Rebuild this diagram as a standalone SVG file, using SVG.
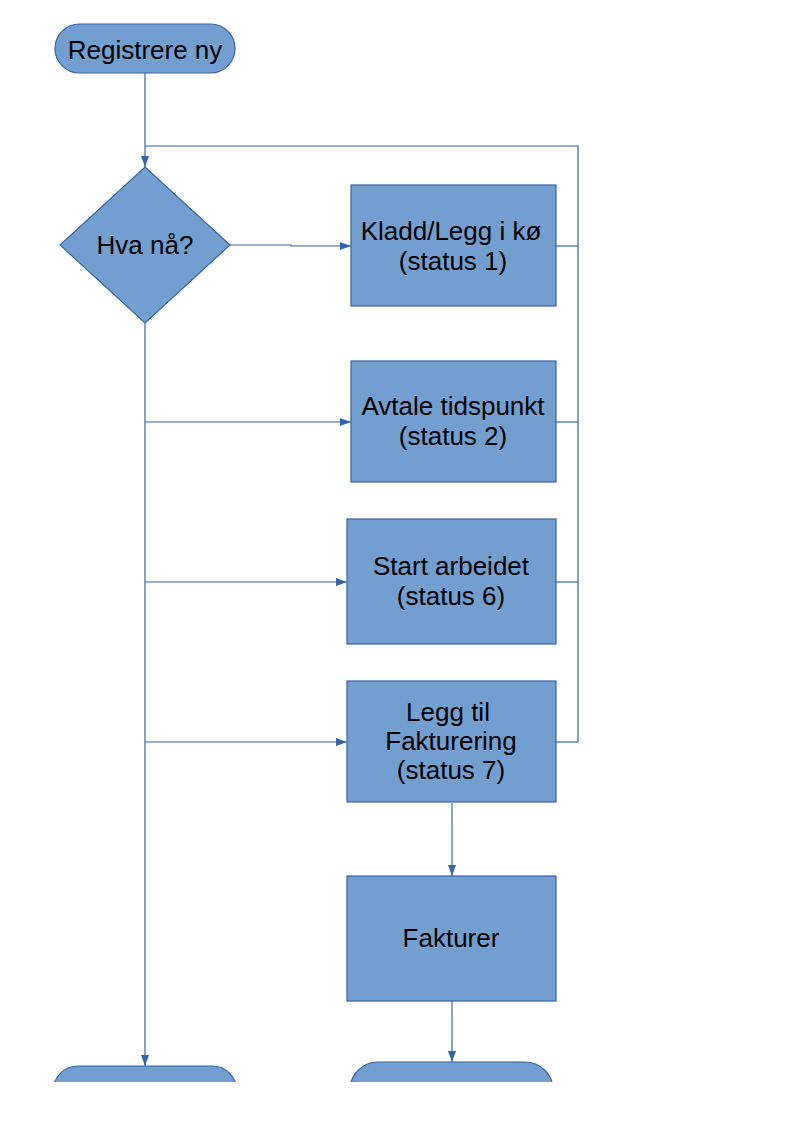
<svg xmlns="http://www.w3.org/2000/svg" width="794" height="1123" viewBox="0 0 794 1123">
  <defs>
    <marker id="arr" viewBox="0 0 11 8" refX="11" refY="4" markerWidth="11" markerHeight="8" markerUnits="userSpaceOnUse" orient="auto">
      <path d="M0,0 L11,4 L0,8 z" fill="#3465a4"/>
    </marker>
    <clipPath id="pageclip">
      <rect x="0" y="0" width="794" height="1082"/>
    </clipPath>
  </defs>
  <style>
    .shape { fill: #729fcf; stroke: #3465a4; stroke-width: 1.2; }
    .lbl { font-family: "Liberation Sans", Arial, sans-serif; font-size: 26px; fill: #000; text-anchor: middle; }
    .conn { fill: none; stroke: #3465a4; stroke-width: 1.2; }
  </style>
  <rect width="794" height="1123" fill="#ffffff"/>

  <g id="connectors">
    <path class="conn" d="M145,73 V167" marker-end="url(#arr)"/>
    <path class="conn" d="M578,742 V146 H145"/>
    <path class="conn" d="M556,246 H578"/>
    <path class="conn" d="M556,422 H578"/>
    <path class="conn" d="M556,582 H578"/>
    <path class="conn" d="M556,742 H578"/>
    <path class="conn" d="M230,245 H291 V246 H351" marker-end="url(#arr)"/>
    <path class="conn" d="M145,323 V1066" marker-end="url(#arr)"/>
    <path class="conn" d="M145,422 H351" marker-end="url(#arr)"/>
    <path class="conn" d="M145,582 H347" marker-end="url(#arr)"/>
    <path class="conn" d="M145,742 H347" marker-end="url(#arr)"/>
    <path class="conn" d="M452,803 V876" marker-end="url(#arr)"/>
    <path class="conn" d="M452,1001 V1062" marker-end="url(#arr)"/>
  </g>

  <g id="start">
    <rect class="shape" x="55" y="24" width="180" height="49" rx="24.5" ry="24.5"/>
    <text class="lbl" x="145" y="59">Registrere ny</text>
  </g>

  <g id="decision">
    <polygon class="shape" points="145,167 230,245 145,323 60,245"/>
    <text class="lbl" x="145" y="254">Hva nå?</text>
  </g>

  <g id="status1">
    <rect class="shape" x="351" y="185" width="205" height="121"/>
    <text class="lbl" x="451" y="240">Kladd/Legg i kø</text>
    <text class="lbl" x="453" y="270">(status 1)</text>
  </g>

  <g id="status2">
    <rect class="shape" x="351" y="361" width="205" height="121"/>
    <text class="lbl" x="453" y="415">Avtale tidspunkt</text>
    <text class="lbl" x="453" y="445">(status 2)</text>
  </g>

  <g id="status6">
    <rect class="shape" x="347" y="519" width="209" height="125"/>
    <text class="lbl" x="451" y="575">Start arbeidet</text>
    <text class="lbl" x="451" y="605">(status 6)</text>
  </g>

  <g id="status7">
    <rect class="shape" x="347" y="681" width="209" height="121"/>
    <text class="lbl" x="448" y="721">Legg til</text>
    <text class="lbl" x="451" y="750">Fakturering</text>
    <text class="lbl" x="451" y="779">(status 7)</text>
  </g>

  <g id="fakturer">
    <rect class="shape" x="347" y="876" width="209" height="125"/>
    <text class="lbl" x="451" y="947">Fakturer</text>
  </g>

  <g id="end-left" clip-path="url(#pageclip)">
    <rect class="shape" x="53" y="1066" width="184" height="50" rx="25" ry="25"/>
  </g>

  <g id="end-right" clip-path="url(#pageclip)">
    <rect class="shape" x="350" y="1062" width="203" height="56" rx="28" ry="28"/>
  </g>
</svg>
